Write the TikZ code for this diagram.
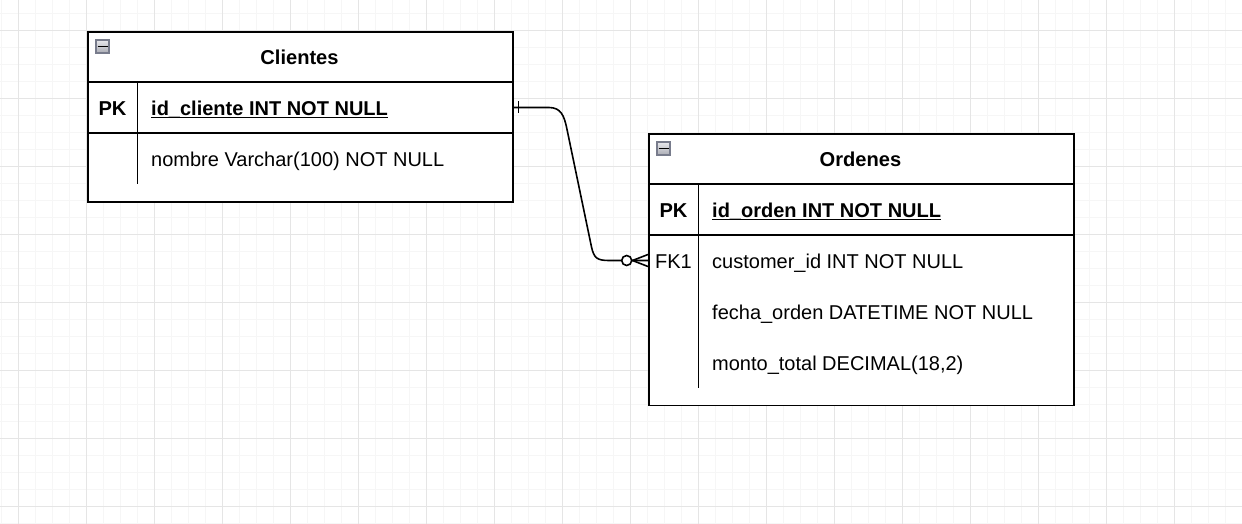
\documentclass[tikz,border=0pt]{standalone}
\usepackage{fontspec}
\setmainfont{Liberation Sans}
\usetikzlibrary{shadings}
\definecolor{majorgrid}{RGB}{229,229,229}
\definecolor{minorgrid}{RGB}{246,246,246}
\definecolor{iconborder}{RGB}{120,124,140}
\definecolor{icontop}{RGB}{232,232,236}
\definecolor{iconbottom}{RGB}{170,172,180}
\newcommand\myul[1]{\setbox0\hbox{#1}\rlap{\rule[-2.4pt]{\wd0}{1.3pt}}\box0}
\tikzset{
  minorln/.style={draw=minorgrid, line width=1pt},
  majorln/.style={draw=majorgrid, line width=1pt},
  tbl/.style={draw=black, fill=white, line width=1.7pt, anchor=north west, inner sep=0pt, minimum width=425pt},
  tline/.style={draw=black, line width=1.7pt},
  sepline/.style={draw=black, line width=1.5pt},
  titletxt/.style={font=\bfseries\fontsize{20.1}{24}\selectfont, anchor=base, inner sep=0pt},
  keytxt/.style={font=\bfseries\fontsize{20.1}{24}\selectfont, anchor=base, inner sep=0pt},
  fktxt/.style={font=\fontsize{20}{24}\selectfont, anchor=base, inner sep=0pt},
  pkattr/.style={font=\bfseries\fontsize{20}{24}\selectfont, anchor=base west, inner sep=0pt},
  attr/.style={font=\fontsize{20}{24}\selectfont, anchor=base west, inner sep=0pt},
  iconbox/.style={draw=iconborder, line width=1.1pt, top color=icontop, bottom color=iconbottom, minimum size=13pt, inner sep=0pt},
  conn/.style={draw=black, line width=1.6pt},
}
\begin{document}
\begin{tikzpicture}[x=1pt, y=-1pt]
\useasboundingbox (0,0) rectangle (1242,524);
\fill[white] (0,0) rectangle (1242,524);
% grid
\foreach \i in {0,...,72} { \draw[minorln] ({1.7+17*\i},0) -- ({1.7+17*\i},524); }
\foreach \j in {0,...,30} { \draw[minorln] (0,{13.6+17*\j}) -- (1242,{13.6+17*\j}); }
\foreach \i in {0,...,17} { \draw[majorln] ({18.7+68*\i},0) -- ({18.7+68*\i},524); }
\foreach \j in {0,...,7} { \draw[majorln] (0,{30.6+68*\j}) -- (1242,{30.6+68*\j}); }

% ---- Clientes table
\node[tbl, minimum height=170pt] (cli) at (87,31) {};
\draw[tline] (87,82) -- (512,82);
\draw[tline] (87,133) -- (512,133);
\draw[sepline] (137.7,82) -- (137.7,184);
\node[iconbox] (cliicon) at (102.5,46.5) {};
\draw[line width=1.9pt] ([xshift=-5pt]cliicon.center) -- ([xshift=5pt]cliicon.center);
\node[titletxt] (clititle) at (299.5,65) {Clientes};
\node[keytxt] (clipkkey) at (112.5,115.5) {PK};
\node[pkattr] (clipk) at (151,115.5) {\myul{id\_cliente INT NOT NULL}};
\node[attr] (clinombre) at (151,166.5) {nombre Varchar(100) NOT NULL};

% ---- Ordenes table
\node[tbl, minimum height=271.5pt] (ord) at (648,133) {};
\draw[tline] (648,184) -- (1073,184);
\draw[tline] (648,235) -- (1073,235);
\draw[sepline] (698.7,184) -- (698.7,388);
\node[iconbox] (ordicon) at (663.5,148.5) {};
\draw[line width=1.9pt] ([xshift=-5pt]ordicon.center) -- ([xshift=5pt]ordicon.center);
\node[titletxt] (ordtitle) at (860.5,166.5) {Ordenes};
\node[keytxt] (ordpkkey) at (673.5,217.5) {PK};
\node[pkattr] (ordpk) at (712,217.5) {\myul{id\_orden INT NOT NULL}};
\node[fktxt] (ordfkkey) at (673.5,268.5) {FK1};
\node[attr] (ordfk) at (712,268.5) {customer\_id INT NOT NULL};
\node[attr] (ordfecha) at (712,319.5) {fecha\_orden DATETIME NOT NULL};
\node[attr] (ordmonto) at (712,370.5) {monto\_total DECIMAL(18,2)};

% ---- relationship
\coordinate (cliPKend) at (512,107.5);
\coordinate (ordFKend) at (648,260.5);
\draw[conn] (cliPKend) -- (549,107.5) .. controls (561,107.5) and (564,116) .. (566.5,127)
  -- (591.5,247) .. controls (594,258) and (597,260.5) .. (609,260.5) -- (ordFKend);
\draw[conn] (518.3,101.5) -- (518.3,113.5);
\draw[conn, fill=white] (626.7,260.5) circle (5pt);
\draw[conn] (632.5,260.5) -- (648,254.5);
\draw[conn] (632.5,260.5) -- (648,266.5);
\end{tikzpicture}
\end{document}
